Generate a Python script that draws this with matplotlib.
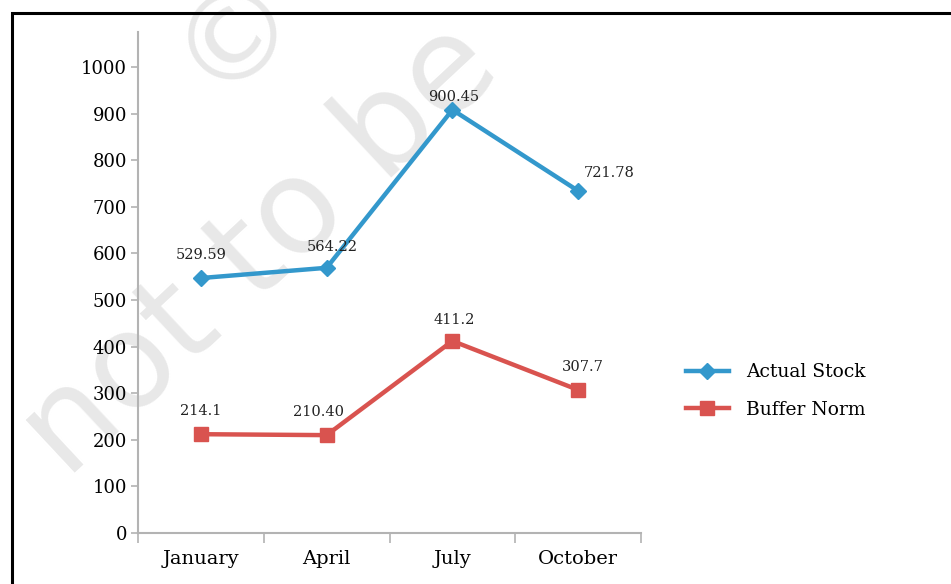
import numpy as np
import matplotlib
matplotlib.use("Agg")
import matplotlib.pyplot as plt
from matplotlib.patches import Rectangle

# values
months = ["January", "April", "July", "October"]
actual_stock = [547, 569, 908, 734]
buffer_norm = [212, 210, 412, 307]
actual_labels = ["529.59", "564.22", "900.45", "721.78"]
buffer_labels = ["214.1", "210.40", "411.2", "307.7"]
y_ticks = list(range(0, 1001, 100))

BLUE = "#3398cc"
RED = "#d9534f"
AXIS = "#b3b3b3"
MARK = "#e8e8e8"

plt.rcParams["font.family"] = ["DejaVu Serif"]

fig = plt.figure(figsize=(9.51, 5.84), dpi=100)

# faint watermark behind the chart
fig.text(0.07, 0.178, "not to be", fontsize=95, color=MARK, family="DejaVu Sans",
         rotation=43, rotation_mode="anchor", ha="left", va="baseline", zorder=0)
fig.text(0.247, 0.945, "\u00a9", fontsize=88, color=MARK, family="DejaVu Sans",
         rotation=43, ha="center", va="center", zorder=0)

# black frame around the figure (right and bottom run off the edge)
fig.patches.append(Rectangle((0.013, -0.1), 1.1, 1.077, transform=fig.transFigure,
                             fill=False, edgecolor="black", linewidth=2.2, zorder=5))

ax = fig.add_axes([0.1451, 0.0873, 0.529, 0.858])
ax.set_zorder(1)
ax.patch.set_alpha(0)

x = np.arange(len(months))
ax.plot(x, actual_stock, color=BLUE, linewidth=3.2, marker="D", markersize=8,
        label="Actual Stock", zorder=3)
ax.plot(x, buffer_norm, color=RED, linewidth=3.2, marker="s", markersize=10,
        label="Buffer Norm", zorder=3)

# label offsets in points (dx, dy)
actual_off = [(0, 16.5), (4, 15), (1, 9.5), (22, 13)]
buffer_off = [(0, 17), (-6, 17), (1, 15), (3, 16.5)]
for i in range(len(months)):
    ax.annotate(actual_labels[i], (x[i], actual_stock[i]), xytext=actual_off[i],
                textcoords="offset points", ha="center", va="center", fontsize=10.5,
                color="#222222")
    ax.annotate(buffer_labels[i], (x[i], buffer_norm[i]), xytext=buffer_off[i],
                textcoords="offset points", ha="center", va="center", fontsize=10.5,
                color="#222222")

ax.set_xlim(-0.5, 3.5)
ax.set_ylim(0, 1075)
ax.set_yticks(y_ticks)
ax.set_xticks(np.arange(-0.5, 4, 1))
ax.set_xticklabels([])
ax.set_xticks(x, minor=True)
ax.set_xticklabels(months, minor=True, fontsize=14)
ax.tick_params(axis="x", which="major", length=7, color=AXIS, width=1.2)
ax.tick_params(axis="x", which="minor", length=0, pad=12)
ax.tick_params(axis="y", length=5, color=AXIS, width=1.2, labelsize=13, pad=3)

for side in ["top", "right"]:
    ax.spines[side].set_visible(False)
for side in ["left", "bottom"]:
    ax.spines[side].set_color(AXIS)
    ax.spines[side].set_linewidth(1.5)

ax.legend(loc="center left", bbox_to_anchor=(1.055, 0.283), frameon=False,
          fontsize=13.5, handlelength=2.3, handletextpad=0.9, labelspacing=1.05)

fig.savefig("out.png", dpi=100)
